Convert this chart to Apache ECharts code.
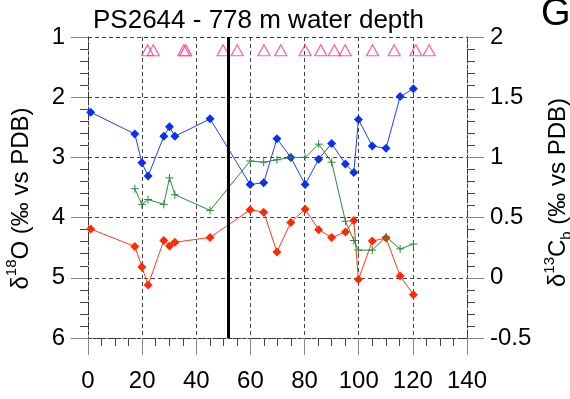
<!DOCTYPE html>
<html><head><meta charset="utf-8">
<script src="https://cdn.jsdelivr.net/npm/echarts@6/dist/echarts.min.js"></script>
<style>html,body{margin:0;padding:0;background:#fff}#c{width:570px;height:399px}</style>
</head><body><div id="c"></div>
<script>
// Age (ka) of samples
const ages = [1.0, 17.3, 19.9, 22.2, 28.0, 30.1, 32.1, 45.1, 59.9, 64.9, 69.8, 74.9, 80.2, 85.2, 90.0, 95.1, 98.2, 99.9, 105.0, 110.1, 115.3, 120.2];
// delta 18O (left axis) - blue series
const d18O_blue = [2.25, 2.61, 3.09, 3.31, 2.65, 2.49, 2.65, 2.36, 3.45, 3.42, 2.69, 3.00, 3.45, 3.03, 2.77, 3.11, 3.25, 2.37, 2.81, 2.85, 1.99, 1.86];
// delta 18O (left axis) - red series
const d18O_red = [4.19, 4.48, 4.82, 5.12, 4.38, 4.47, 4.41, 4.33, 3.87, 3.91, 4.57, 4.08, 3.86, 4.20, 4.33, 4.24, 4.05, 5.03, 4.39, 4.34, 4.97, 5.28];
// delta 13C benthic (right axis) - green series, starts at second age
const d13C_ages = [17.3, 19.9, 22.2, 28.0, 30.1, 32.1, 45.1, 59.9, 64.9, 69.8, 74.9, 80.2, 85.2, 90.0, 95.1, 98.2, 99.9, 105.0, 110.1, 115.3, 120.2];
const d13C_green = [0.74, 0.61, 0.65, 0.61, 0.83, 0.69, 0.56, 0.97, 0.96, 0.98, 1.00, 1.00, 1.11, 0.96, 0.47, 0.31, 0.23, 0.23, 0.34, 0.24, 0.28];
// dating points (triangles)
const triangleAges = [22.0, 24.1, 35.4, 36.1, 49.9, 55.1, 65.0, 71.2, 80.2, 86.0, 91.0, 95.0, 105.1, 113.1, 121.1, 126.0];
const triangleLevel = 1.22;
const boundaryAge = 51.7;

const FONT = '"Liberation Sans", Arial, Helvetica, sans-serif';
const gridLine = {show: true, lineStyle: {color: '#444', type: [4, 3], width: 1}};
const axLine = {show: true, onZero: false, lineStyle: {color: '#333', type: [3, 2], width: 1}};
const tick = {show: true, inside: false, length: 17, lineStyle: {color: '#888', width: 1}};
const minor = (n) => ({show: true, splitNumber: n, length: 8, lineStyle: {color: '#444', width: 1}});
const lbl = (m) => ({color: '#000', fontSize: 24, fontFamily: FONT, margin: m});

const chart = echarts.init(document.getElementById('c'));
chart.setOption({
  animation: false,
  backgroundColor: '#fff',
  title: {text: 'PS2644 - 778 m water depth', left: 88, top: 3,
    textStyle: {fontSize: 26, fontWeight: 'normal', color: '#000', fontFamily: FONT}},
  graphic: [{type: 'text', left: 541, top: -4, style: {text: 'G', fontSize: 38, fill: '#000', fontFamily: FONT}}],
  grid: {left: 88, right: 103, top: 37, bottom: 61, outerBoundsMode: 'none', containLabel: false},
  xAxis: {type: 'value', min: 0, max: 140, interval: 20,
    axisLine: axLine, axisTick: tick, minorTick: minor(4), splitLine: gridLine,
    axisLabel: lbl(31)},
  yAxis: [
    {type: 'value', inverse: true, min: 1, max: 6, interval: 1, position: 'left',
      axisLine: axLine, axisTick: tick, minorTick: minor(5), splitLine: gridLine,
      axisLabel: lbl(23),
      name: '{d|δ}{s|18}{d|O (‰ vs PDB)}', nameLocation: 'middle', nameRotate: 90, nameGap: 50,
      nameTextStyle: {fontFamily: FONT, color: '#000', padding: [0, 22, 0, 0], rich: {
        d: {fontSize: 24, fontFamily: FONT, lineHeight: 34, verticalAlign: 'middle'},
        s: {fontSize: 15, fontFamily: FONT, lineHeight: 34, verticalAlign: 'top'}}}},
    {type: 'value', min: -0.5, max: 2, interval: 0.5, position: 'right',
      axisLine: axLine, axisTick: tick, minorTick: minor(5), splitLine: {show: false},
      axisLabel: lbl(23),
      name: '{d|δ}{s|13}{d|C}{b|b}{d| (‰ vs PDB)}', nameLocation: 'middle', nameRotate: 90, nameGap: 62,
      nameTextStyle: {fontFamily: FONT, color: '#000', padding: [0, 10, 0, 0], rich: {
        d: {fontSize: 24, fontFamily: FONT, lineHeight: 32, verticalAlign: 'middle'},
        s: {fontSize: 15, fontFamily: FONT, lineHeight: 32, verticalAlign: 'top'},
        b: {fontSize: 15, fontFamily: FONT, lineHeight: 32, verticalAlign: 'bottom'}}}}
  ],
  series: [
    {type: 'line', yAxisIndex: 0, data: ages.map((a, i) => [a, d18O_blue[i]]),
      lineStyle: {color: '#1f40f0', width: 1}, itemStyle: {color: '#0a30f0'},
      symbol: 'diamond', symbolSize: 9, showSymbol: true,
      markLine: {silent: true, symbol: ['none', 'none'], label: {show: false},
        lineStyle: {color: '#000', width: 3, type: 'solid'}, data: [{xAxis: boundaryAge}]}},
    {type: 'line', yAxisIndex: 0, data: ages.map((a, i) => [a, d18O_red[i]]),
      lineStyle: {color: '#ff3a1a', width: 1}, itemStyle: {color: '#ff2a00'},
      symbol: 'diamond', symbolSize: 9},
    {type: 'line', yAxisIndex: 1, data: d13C_ages.map((a, i) => [a, d13C_green[i]]),
      lineStyle: {color: '#2a8a3a', width: 1},
      symbol: 'path://M0,5L10,5M5,0L5,10', symbolSize: 8,
      itemStyle: {color: 'rgba(0,0,0,0)', borderColor: '#2a8a3a', borderWidth: 1}},
    {type: 'scatter', yAxisIndex: 0, data: triangleAges.map(a => [a, triangleLevel]),
      symbol: 'triangle', symbolSize: [12, 11],
      itemStyle: {color: 'rgba(0,0,0,0)', borderColor: '#ff3399', borderWidth: 1.2}}
  ]
});
</script></body></html>
